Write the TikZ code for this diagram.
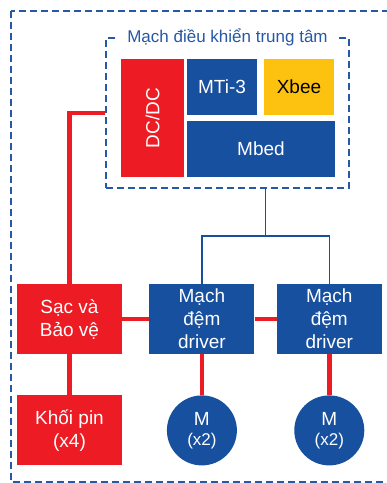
\documentclass[tikz,border=0pt]{standalone}
\usepackage{graphicx}
\usepackage{fontspec}
\setmainfont{Liberation Sans}
\usetikzlibrary{positioning, calc}
\definecolor{boardblue}{RGB}{24, 80, 160}
\definecolor{powerred}{RGB}{237, 28, 36}
\definecolor{xbeeyellow}{RGB}{253, 194, 16}
\definecolor{frameblue}{RGB}{38, 88, 168}

\begin{document}
\begin{tikzpicture}[
    x=1pt, y=-1pt,
    every node/.style={font=\fontsize{19}{23}\selectfont},
    redblock/.style={
        rectangle,
        fill=powerred,
        text=white,
        inner sep=0pt,
        align=center,
        minimum width=105pt,
        minimum height=70pt
    },
    blueblock/.style={
        rectangle,
        fill=boardblue,
        text=white,
        inner sep=0pt,
        align=center,
        minimum width=105pt,
        minimum height=70pt
    },
    motor/.style={
        circle,
        fill=boardblue,
        text=white,
        inner sep=0pt,
        align=center,
        minimum size=70pt
    },
    framebox/.style={
        draw=frameblue,
        line width=1.4pt,
        dash pattern=on 7pt off 4pt
    },
    power/.style={
        line width=4.5pt,
        draw=powerred
    },
    signal/.style={
        line width=1.5pt,
        draw=boardblue
    }
]
\useasboundingbox (0,0) rectangle (387,483);

% ==================== OUTER FRAME ====================
\draw [framebox] (11,11) rectangle (400,482);

% ==================== CONTROL BOARD ====================
\node (ctrl) [framebox, rectangle, minimum width=243pt, minimum height=150pt, inner sep=0pt] at (227.5,113) {};
\node (ctrl_title) [fill=white, text=frameblue, font=\fontsize{17}{20}\selectfont, inner xsep=9pt, inner ysep=1pt] at (227.5,37) {Mạch điều khiển trung tâm};

\node (dcdc) [redblock, minimum width=63pt, minimum height=118pt] at (152.5,118) {\rotatebox{90}{DC/DC}};
\node (mti) [blueblock, minimum width=70pt, minimum height=56pt] at (222,87) {MTi-3};
\node (xbee) [blueblock, fill=xbeeyellow, text=black, minimum width=70pt, minimum height=56pt] at (299,87) {Xbee};
\node (mbed) [blueblock, minimum width=148pt, minimum height=56pt] at (261,149) {Mbed};

% ==================== POWER AND DRIVERS ====================
\node (sac) [redblock] at (69.5,319) {Sạc và\\Bảo vệ};
\node (drv1) [blueblock, right=27pt of sac] {Mạch\\đệm\\driver};
\node (drv2) [blueblock, right=22pt of drv1] {Mạch\\đệm\\driver};
\node (pin) [redblock, below=41pt of sac] {Khối pin\\(x4)};

\node (mot1) [motor, below=41pt of drv1] {M\\[-3pt]{\fontsize{17}{20}\selectfont(x2)}};
\node (mot2) [motor, below=41pt of drv2] {M\\[-3pt]{\fontsize{17}{20}\selectfont(x2)}};

% ==================== CONNECTIONS ====================
\coordinate (split) at ($(drv1.north)!0.5!(drv2.north) + (0,-48)$);

% Signal bus from control board to drivers
\draw [signal] (split |- ctrl.south) -- (split);
\draw [signal] (drv1.north) |- (split) -| (drv2.north);

% Power lines
\draw [power] (ctrl.west) -| (sac.north);
\draw [power] (sac) -- (drv1);
\draw [power] (drv1) -- (drv2);
\draw [power] (sac) -- (pin);
\draw [power] (drv1) -- (mot1);
\draw [power] (drv2) -- (mot2);

\end{tikzpicture}
\end{document}
